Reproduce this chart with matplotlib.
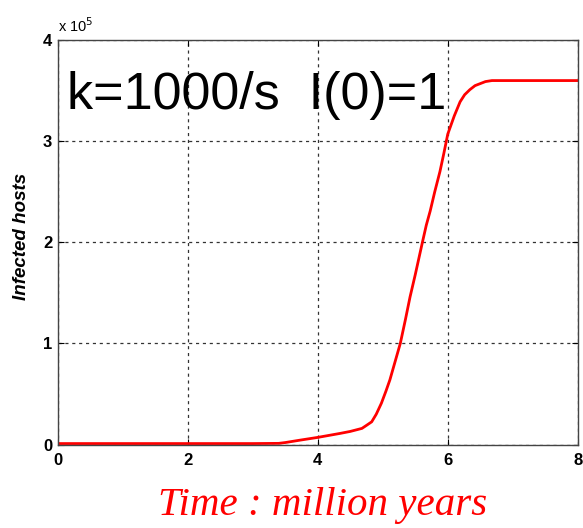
import matplotlib
matplotlib.use('Agg')
from matplotlib import pyplot as plt

# infected hosts (x 10^5) against time in million years
time_myr = [0.0, 1.0, 2.0, 3.0, 3.4, 3.5, 3.73, 4.0, 4.34, 4.5, 4.68, 4.75, 4.83, 4.9,
            4.98, 5.05, 5.11, 5.19, 5.27, 5.35, 5.42, 5.5, 5.61, 5.67, 5.73, 5.8, 5.88,
            5.94, 6.0, 6.1, 6.19, 6.26, 6.34, 6.42, 6.5, 6.58, 6.68, 7.0, 7.5, 8.0]
infected = [0.01, 0.01, 0.01, 0.01, 0.012, 0.02, 0.044, 0.071, 0.11, 0.13, 0.16, 0.19, 0.225, 0.30,
            0.41, 0.53, 0.64, 0.82, 1.0, 1.24, 1.46, 1.68, 2.0, 2.17, 2.31, 2.50, 2.70,
            2.88, 3.07, 3.25, 3.39, 3.46, 3.51, 3.55, 3.57, 3.59, 3.60, 3.60, 3.60, 3.60]
x_ticks = [0, 2, 4, 6, 8]
y_ticks = [0, 1, 2, 3, 4]

plt.rcParams['font.family'] = ['Liberation Sans', 'DejaVu Sans']

fig = plt.figure(figsize=(5.83, 5.28), dpi=100)
ax = fig.add_axes([0.099, 0.158, 0.892, 0.766])
ax.plot(time_myr, infected, color='#ff0000', linewidth=2, solid_joinstyle='round')

ax.set_xlim(0, 8)
ax.set_ylim(0, 4)
ax.set_xticks(x_ticks)
ax.set_yticks(y_ticks)
ax.set_xticklabels([str(t) for t in x_ticks], fontsize=12, fontweight='bold')
ax.set_yticklabels([str(t) for t in y_ticks], fontsize=12, fontweight='bold')
ax.tick_params(direction='in', length=4, width=0.8, top=True, right=True, pad=4)
ax.tick_params(axis='x', pad=6)
ax.grid(True, color='#333333', linestyle=(0, (2.5, 3)), linewidth=0.9)
for s in ax.spines.values():
    s.set_color('#444444')
    s.set_linewidth(1.0)

ax.set_ylabel('Infected hosts', fontsize=13.5, fontweight='bold', style='italic')
ax.yaxis.set_label_coords(-0.053, 0.515)
fig.text(0.553, 0.024, 'Time : million years', color='#ff0000', fontsize=29.5,
         family='Liberation Serif', style='italic', ha='center', va='baseline')

# exponent marker, matlab style
fig.text(0.099, 0.939, r'x 10$^{5}$', fontsize=10.5, ha='left', va='baseline')

ax.text(0.017, 0.829, 'k=1000/s  I(0)=1', transform=ax.transAxes, fontsize=37.5,
        ha='left', va='baseline')

fig.savefig('out.png', dpi=100)
